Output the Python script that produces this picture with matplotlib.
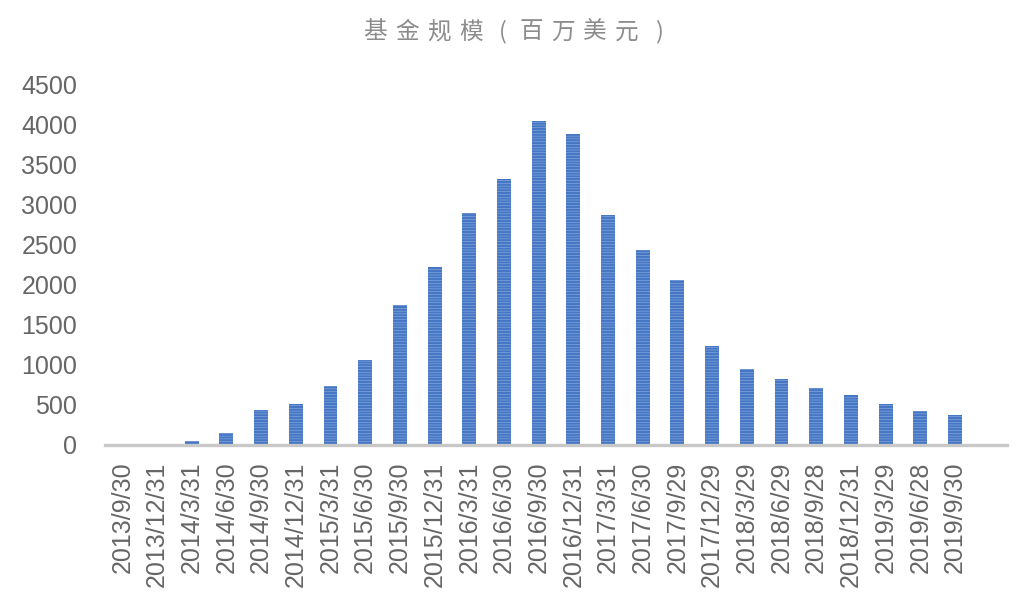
import matplotlib.pyplot as plt

plt.rcParams['font.family'] = ['Liberation Sans', 'DejaVu Sans']
plt.rcParams['hatch.linewidth'] = 1.7

# data (fund size, million USD)
dates = ['2013/9/30', '2013/12/31', '2014/3/31', '2014/6/30', '2014/9/30',
         '2014/12/31', '2015/3/31', '2015/6/30', '2015/9/30', '2015/12/31',
         '2016/3/31', '2016/6/30', '2016/9/30', '2016/12/31', '2017/3/31',
         '2017/6/30', '2017/9/29', '2017/12/29', '2018/3/29', '2018/6/29',
         '2018/9/28', '2018/12/31', '2019/3/29', '2019/6/28', '2019/9/30']
size = [0, 3, 50, 150, 440, 510, 740, 1060, 1755, 2225,
        2895, 3325, 4055, 3890, 2870, 2435, 2060, 1240, 950, 820,
        715, 620, 510, 430, 375]

title_chars = ['基', '金', '规', '模', '(', '百', '万', '美', '元', ')']

fig = plt.figure(figsize=(10.17, 6.06), dpi=100)
ax = fig.add_axes([105 / 1017, 1 - 445 / 606, (1007 - 105) / 1017, 360 / 606])

x = range(len(dates))
ax.bar(x, size, width=0.4, color='#A9C1EA', edgecolor='#4677C4',
       linewidth=0, hatch='------')

ax.set_xlim(-0.5, len(dates) + 0.5)
ax.set_ylim(0, 4500)
ax.set_yticks(range(0, 4501, 500))
ax.set_xticks(list(x))
ax.set_xticklabels(dates, rotation=90)

for s in ['top', 'right', 'left']:
    ax.spines[s].set_visible(False)
ax.spines['bottom'].set_color('#C8C8C8')
ax.spines['bottom'].set_linewidth(2.4)

ax.tick_params(axis='y', length=0, pad=20, labelsize=18, labelcolor='#666666')
ax.tick_params(axis='x', length=0, pad=12, labelsize=18, labelcolor='#666666')

# spaced-out title, one character at a time
xpos = 375
for ch in title_chars:
    half = ch in '()'
    fig.text(xpos / 1017, 1 - 32 / 606, ch, ha='center', va='center',
             fontsize=17, color='#8C8C8C',
             family=['Noto Sans CJK SC', 'DejaVu Sans'])
    xpos += 28 if half else 32

plt.savefig('out.png', dpi=100)
